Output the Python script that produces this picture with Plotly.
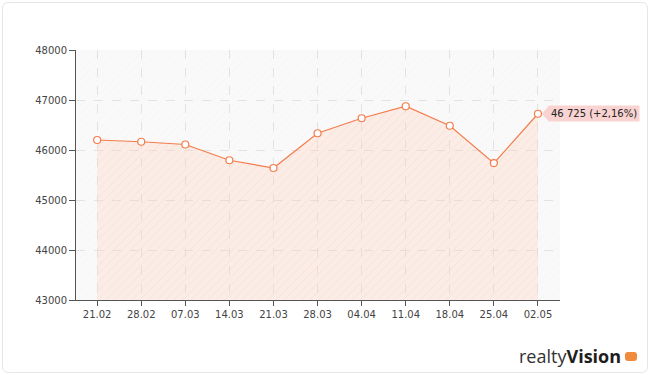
import plotly.graph_objects as go

dates = ["21.02", "28.02", "07.03", "14.03", "21.03", "28.03", "04.04", "11.04", "18.04", "25.04", "02.05"]
prices = [46200, 46165, 46110, 45795, 45640, 46335, 46635, 46875, 46485, 45738, 46725]
y_ticks = [43000, 44000, 45000, 46000, 47000, 48000]
label_text = "46 725 (+2,16%)"

line_color = "#f47c4c"
font_family = "DejaVu Sans, Verdana, sans-serif"

fig = go.Figure()

# hatched background across plot area
fig.add_trace(go.Scatter(
    x=[-0.5, 10.6], y=[48000, 48000], mode="lines", line=dict(width=0),
    fill="tozeroy", fillcolor="rgba(0,0,0,0)",
    fillpattern=dict(shape="/", bgcolor="rgba(0,0,0,0)", fgcolor="#efefef", size=6, solidity=0.12),
    hoverinfo="skip", showlegend=False,
))

fig.add_trace(go.Scatter(
    x=list(range(len(dates))), y=prices, mode="lines+markers",
    line=dict(color=line_color, width=1.2),
    marker=dict(size=7, color="white", line=dict(color=line_color, width=1.2)),
    fill="tozeroy", fillcolor="rgba(0,0,0,0)",
    fillpattern=dict(shape="/", bgcolor="rgba(255,207,185,0.3)", fgcolor="rgba(240,200,185,0.45)",
                     size=6, solidity=0.12),
    showlegend=False,
))

fig.update_layout(
    width=650, height=375,
    margin=dict(l=76, r=90, t=50, b=75),
    paper_bgcolor="white", plot_bgcolor="#f9f9f9",
    font=dict(family=font_family, size=10, color="#444"),
    xaxis=dict(
        range=[-0.48, 10.5], tickmode="array", tickvals=list(range(len(dates))), ticktext=dates,
        showgrid=True, gridcolor="#e2e2e2", griddash="dash", gridwidth=1,
        showline=True, linecolor="#555", linewidth=1, ticks="outside", ticklen=5,
        tickcolor="#555", zeroline=False, fixedrange=True,
        tickfont=dict(size=10, color="#444"),
    ),
    yaxis=dict(
        range=[43000, 48000], tickmode="array", tickvals=y_ticks,
        ticktext=[str(v) for v in y_ticks],
        showgrid=True, gridcolor="#e2e2e2", griddash="dash", gridwidth=1,
        showline=True, linecolor="#555", linewidth=1, ticks="outside", ticklen=6,
        tickcolor="#555", zeroline=False, fixedrange=True,
        tickfont=dict(size=10, color="#444"),
    ),
    annotations=[
        dict(x=10, y=prices[-1], xref="x", yref="y", text=label_text, showarrow=False,
             xanchor="left", yanchor="middle", xshift=10,
             bgcolor="#f9d3d1", borderpad=2,
             font=dict(family=font_family, size=10, color="#222")),
        dict(x=1, y=0, xref="paper", yref="paper", xanchor="right", yanchor="top",
             xshift=63, yshift=-42,
             text="<span style='color:#333'>realty</span><b style='color:#1e1e1e'>Vision</b>",
             showarrow=False, font=dict(family="Open Sans, sans-serif", size=18, color="#333")),
    ],
)

# pixel helpers for frame and logo badge, converted to paper coords
pw, ph = 650 - 76 - 90, 375 - 50 - 75
def px(x):
    return (x - 76) / pw
def py(y):
    return (375 - 75 - y) / ph
x0, x1, y0, y1, r = 2.5, 647.5, 2.5, 372.5, 6
path = (f"M {px(x0 + r)} {py(y0)} L {px(x1 - r)} {py(y0)} Q {px(x1)} {py(y0)} {px(x1)} {py(y0 + r)} "
        f"L {px(x1)} {py(y1 - r)} Q {px(x1)} {py(y1)} {px(x1 - r)} {py(y1)} "
        f"L {px(x0 + r)} {py(y1)} Q {px(x0)} {py(y1)} {px(x0)} {py(y1 - r)} "
        f"L {px(x0)} {py(y0 + r)} Q {px(x0)} {py(y0)} {px(x0 + r)} {py(y0)} Z")
fig.update_layout(shapes=[
    dict(type="path", xref="paper", yref="paper", layer="below", path=path,
         line=dict(color="#e6e6e6", width=1), fillcolor="rgba(0,0,0,0)"),
    # pointer of the value label
    dict(type="path", xref="x", yref="y", xsizemode="pixel", ysizemode="pixel",
         xanchor=10, yanchor=prices[-1],
         path="M 4 0 L 11 8 L 11 -8 Z", fillcolor="#f9d3d1", line=dict(width=0)),
    # orange ".ru" badge
    dict(type="path", xref="paper", yref="paper",
         path=(f"M {px(628)} {py(352)} L {px(634)} {py(352)} Q {px(637)} {py(352)} {px(637)} {py(355)} "
               f"L {px(637)} {py(358)} Q {px(637)} {py(361)} {px(634)} {py(361)} "
               f"L {px(628)} {py(361)} Q {px(625)} {py(361)} {px(625)} {py(358)} "
               f"L {px(625)} {py(355)} Q {px(625)} {py(352)} {px(628)} {py(352)} Z"),
         fillcolor="#f08a3c", line=dict(width=0)),
])

fig.write_html("out.html", config={"displayModeBar": False},
               post_script="document.body.style.margin='0';document.body.style.overflow='hidden';")
